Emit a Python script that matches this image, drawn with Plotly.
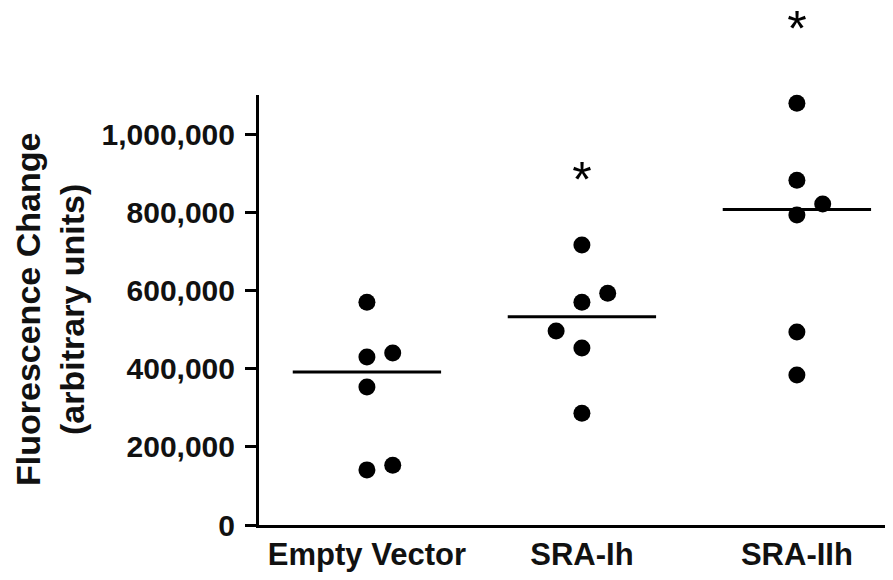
import numpy as np
import plotly.graph_objects as go

categories = ["Empty Vector", "SRA-Ih", "SRA-IIh"]
empty_vector = [570000, 430000, 440000, 353000, 141000, 153000]
sra_ih = [716000, 570000, 593000, 496000, 453000, 286000]
sra_iih = [1079000, 882000, 821000, 793000, 494000, 384000]
offsets = [
    [0.0, 0.0, 0.12, 0.0, 0.0, 0.12],
    [0.0, 0.0, 0.12, -0.12, 0.0, 0.0],
    [0.0, 0.0, 0.12, 0.0, 0.0, 0.0],
]
sig_marks = ["", "*", "*"]
sig_y = [None, 872000, 1258000]
ytick_vals = [0, 200000, 400000, 600000, 800000, 1000000]
ytick_text = ["0", "200,000", "400,000", "600,000", "800,000", "1,000,000"]

series = [empty_vector, sra_ih, sra_iih]
FONT = "Liberation Sans"

Y_MAX = 1100000
FIG_H, MT, MB = 572, 0, 55
PLOT_TOP = 87  # px from figure top where the main axis ends
dom_top = (FIG_H - MB - PLOT_TOP) / (FIG_H - MB - MT)

fig = go.Figure()
for i, vals in enumerate(series):
    xs = [i + o for o in offsets[i]]
    fig.add_trace(go.Scatter(x=xs, y=vals, mode="markers",
                             marker=dict(size=17, color="black"),
                             showlegend=False, cliponaxis=False))
    med = float(np.median(vals))
    fig.add_trace(go.Scatter(x=[i - 0.345, i + 0.345], y=[med, med], mode="lines",
                             line=dict(color="black", width=3), showlegend=False))

sx = [i for i, m in enumerate(sig_marks) if m]
fig.add_trace(go.Scatter(x=sx, y=[sig_y[i] for i in sx], mode="text", yaxis="y2",
                         text=[sig_marks[i] for i in sx], textposition="middle center",
                         textfont=dict(family=FONT, size=50, color="black"),
                         showlegend=False, cliponaxis=False))

fig.add_annotation(xref="paper", yref="paper", x=0, y=dom_top / 2, xanchor="center", yanchor="middle",
                   xshift=-209, textangle=-90, showarrow=False,
                   text="<b>Fluorescence Change</b><br><b>(arbitrary units)</b>",
                   font=dict(family=FONT, size=34, color="#111"))

fig.update_layout(
    width=885, height=FIG_H,
    margin=dict(l=251, r=0, t=MT, b=MB),
    plot_bgcolor="rgba(0,0,0,0)", paper_bgcolor="white",
    font=dict(family=FONT, color="#111"),
    xaxis=dict(range=[-0.502, 2.447], tickvals=[0, 1, 2],
               ticktext=["<b>%s</b>" % c for c in categories],
               showgrid=False, zeroline=False, showline=True, linecolor="black", linewidth=3,
               ticks="", tickfont=dict(family=FONT, size=31, color="#111"), ticklabelstandoff=0),
    yaxis=dict(range=[0, Y_MAX], domain=[0, dom_top], tickvals=ytick_vals,
               ticktext=["<b>%s</b>" % t for t in ytick_text],
               showgrid=False, zeroline=False, showline=True, linecolor="black", linewidth=3,
               ticks="outside", ticklen=11, tickwidth=2.5, tickcolor="black",
               tickfont=dict(family=FONT, size=30, color="#111"), ticklabelstandoff=4),
    yaxis2=dict(range=[0, Y_MAX / dom_top], domain=[0, 1], anchor="x", visible=False,
                showgrid=False, zeroline=False),
)

fig.write_html("out.html")
